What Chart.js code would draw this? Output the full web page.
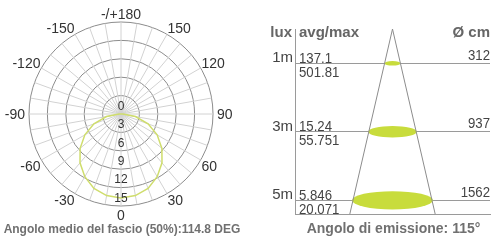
<!DOCTYPE html>
<html>
<head>
<meta charset="utf-8">
<script src="https://cdn.jsdelivr.net/npm/chart.js@4/dist/chart.umd.min.js"></script>
<style>
body { margin: 0; background: #fff; width: 499px; height: 243px; overflow: hidden; position: relative; font-family: "Liberation Sans", Arial, sans-serif; }
#polarBox { position: absolute; left: 0; top: 0; width: 250px; height: 243px; }
#coneBox { position: absolute; left: 250px; top: 0; width: 249px; height: 243px; }
.cap { position: absolute; font-weight: bold; color: #707070; white-space: nowrap; text-align: center; line-height: 14px; }
</style>
</head>
<body>
<div id="polarBox"><canvas id="polarChart"></canvas></div>
<div id="coneBox"><canvas id="coneChart"></canvas></div>
<div class="cap" style="left:0; width:244px; top:222px; font-size:12px;">Angolo medio del fascio (50%):114.8 DEG</div>
<div class="cap" style="left:297px; width:193px; top:221px; font-size:14px;">Angolo di emissione: 115°</div>
<script>
// polar diagram: one value every 10 degrees, 0 at the bottom
var angleLabels = ['0', '-10', '-20', '-30', '-40', '-50', '-60', '-70', '-80', '-90', '-100', '-110', '-120', '-130', '-140', '-150', '-160', '-170',
    '-/+180', '170', '160', '150', '140', '130', '120', '110', '100', '90', '80', '70', '60', '50', '40', '30', '20', '10'];
var intensity = [13.7, 13.5, 12.9, 11.8, 10.4, 8.7, 6.8, 4.7, 2.4, 0.3, 0, 0, 0, 0, 0, 0, 0, 0,
    0, 0, 0, 0, 0, 0, 0, 0, 0, 0.3, 2.4, 4.7, 6.8, 8.7, 10.4, 11.8, 12.9, 13.5];
var radialTicks = [0, 3, 6, 9, 12, 15];

// cone diagram
var distances = [1, 3, 5];
var avgLux = [137.1, 15.24, 5.846];
var maxLux = [501.81, 55.751, 20.071];
var beamDiam = [312, 937, 1562];
var coneX = [-823, 0, 823];
var coneY = [5.4, 0, 5.4];

var FONT = '"Liberation Sans", Arial, sans-serif';

// tick numbers down the 0 axis and the angle labels every 30 degrees
var polarText = {
    id: 'polarText',
    afterDatasetsDraw: function (chart) {
        var r = chart.scales.r, ctx = chart.ctx;
        ctx.save();
        ctx.font = '12px ' + FONT;
        ctx.fillStyle = '#333';
        ctx.textAlign = 'center';
        ctx.textBaseline = 'middle';
        radialTicks.forEach(function (v) {
            ctx.fillText(String(v), r.xCenter, r.yCenter + r.getDistanceFromCenterForValue(v) - 7.5);
        });
        ctx.font = '14px ' + FONT;
        ctx.textBaseline = 'alphabetic';
        angleLabels.forEach(function (lab, i) {
            if (i % 3 !== 0) return;
            var p = r.getPointPosition(i, r.drawingArea + 1);
            var dx = p.x - r.xCenter, dy = p.y - r.yCenter;
            var x = p.x, y = p.y;
            if (Math.abs(dx) < 1) {
                ctx.textAlign = 'center';
                y += dy < 0 ? -2.5 : 2.5;
            } else {
                ctx.textAlign = dx > 0 ? 'left' : 'right';
                if (Math.abs(dy) < 1) x += dx > 0 ? 3 : -3;
            }
            if (Math.abs(dy) < 1) y += 5;
            else if (dy > 0) y += 10;
            ctx.fillText(lab, x, y);
        });
        ctx.restore();
    }
};

new Chart(document.getElementById('polarChart').getContext('2d'), {
    type: 'radar',
    data: {
        labels: angleLabels,
        datasets: [{
            data: intensity,
            borderColor: '#cfdd6c',
            borderWidth: 1.5,
            fill: false,
            pointRadius: 0,
            tension: 0
        }]
    },
    options: {
        responsive: true,
        maintainAspectRatio: false,
        animation: false,
        events: [],
        layout: { padding: { left: 29, top: 22, right: 37, bottom: 37 } },
        plugins: { legend: { display: false }, tooltip: { enabled: false } },
        scales: {
            r: {
                min: 0,
                max: 15,
                startAngle: 180,
                ticks: { stepSize: 3, display: false },
                grid: { circular: true, color: '#8c8c8c' },
                angleLines: { color: '#d2d2d2' },
                pointLabels: { display: false }
            }
        }
    },
    plugins: [polarText]
});

function txt(ctx, s, x, y, align, font, color, sx) {
    ctx.save();
    ctx.translate(x, y);
    ctx.scale(sx, 1);
    ctx.font = font;
    ctx.fillStyle = color;
    ctx.textAlign = align;
    ctx.textBaseline = 'alphabetic';
    ctx.fillText(s, 0, 0);
    ctx.restore();
}

var coneExtras = {
    id: 'coneExtras',
    beforeDatasetsDraw: function (chart) {
        var x = chart.scales.x, y = chart.scales.y, ctx = chart.ctx;
        ctx.save();
        ctx.fillStyle = '#c8dc3c';
        distances.forEach(function (d, i) {
            var cx = x.getPixelForValue(0);
            var rx = x.getPixelForValue(beamDiam[i] / 2) - cx;
            ctx.beginPath();
            ctx.ellipse(cx, y.getPixelForValue(d), rx, rx * 0.21 + 0.6, 0, 0, Math.PI * 2);
            ctx.fill();
        });
        ctx.restore();
    },
    afterDatasetsDraw: function (chart) {
        var a = chart.chartArea, y = chart.scales.y, ctx = chart.ctx;
        var head = 'bold 15px ' + FONT, num = '15px ' + FONT;
        var top = y.getPixelForValue(0) + 7.5;
        txt(ctx, 'lux', a.left - 3, top, 'right', head, '#666', 1);
        txt(ctx, 'avg/max', a.left + 4, top, 'left', head, '#666', 1);
        txt(ctx, 'Ø cm', a.right, top, 'right', head, '#666', 1);
        distances.forEach(function (d, i) {
            var py = y.getPixelForValue(d);
            txt(ctx, String(avgLux[i]), a.left + 4, py - 0.5, 'left', num, '#444', 0.88);
            txt(ctx, String(maxLux[i]), a.left + 4, py + 13.5, 'left', num, '#444', 0.88);
            txt(ctx, String(beamDiam[i]), a.right, py - 3.3, 'right', num, '#444', 0.88);
        });
    }
};

new Chart(document.getElementById('coneChart').getContext('2d'), {
    type: 'scatter',
    data: {
        datasets: [{
            data: coneX.map(function (v, i) { return { x: v, y: coneY[i] }; }),
            showLine: true,
            borderColor: '#8c8c8c',
            borderWidth: 1,
            pointRadius: 0
        }]
    },
    options: {
        responsive: true,
        maintainAspectRatio: false,
        animation: false,
        events: [],
        layout: { padding: { top: 29, right: 9, left: 0, bottom: 0 } },
        plugins: { legend: { display: false }, tooltip: { enabled: false } },
        scales: {
            x: {
                min: -1880,
                max: 1880,
                ticks: { display: false },
                grid: { color: 'rgba(0,0,0,0)', drawTicks: false },
                border: { color: '#9a9a9a' },
                afterFit: function (s) { s.height = 29; }
            },
            y: {
                min: 0,
                max: 5.4,
                reverse: true,
                afterBuildTicks: function (s) { s.ticks = distances.map(function (v) { return { value: v }; }); },
                ticks: {
                    color: '#444',
                    padding: 2,
                    labelOffset: -5,
                    font: { family: FONT, size: 15 },
                    callback: function (v) { return v + 'm'; }
                },
                grid: { color: '#9a9a9a', drawTicks: false },
                border: { color: '#9a9a9a' },
                afterFit: function (s) { s.width = 45; }
            }
        }
    },
    plugins: [coneExtras]
});
</script>
</body>
</html>
